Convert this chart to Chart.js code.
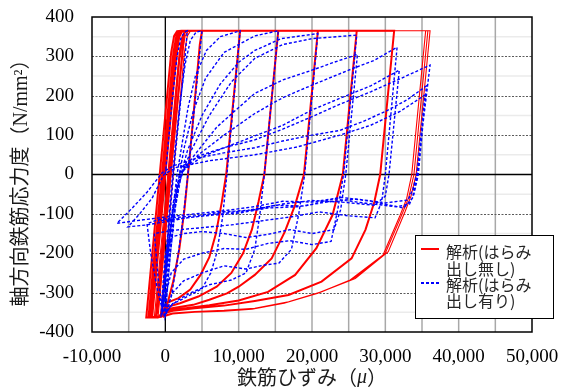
<!DOCTYPE html>
<html>
<head>
<meta charset="utf-8">
<script src="https://cdn.jsdelivr.net/npm/chart.js@4/dist/chart.umd.min.js"></script>
<style>
html,body{margin:0;padding:0;background:#fff;}
#c{display:block;}
</style>
</head>
<body>
<canvas id="c" width="574" height="387"></canvas>
<script>
// ---------- axis ticks ----------
const xTickValues = [-10000, 0, 10000, 20000, 30000, 40000, 50000];
const xTickLabels = ['-10,000', '0', '10,000', '20,000', '30,000', '40,000', '50,000'];
const yTickValues = [-400, -300, -200, -100, 0, 100, 200, 300, 400];
const yTickLabels = ['-400', '-300', '-200', '-100', '0', '100', '200', '300', '400'];

// ---------- series names ----------
const seriesNames = ['解析(はらみ\n出し無し)', '解析(はらみ\n出し有り)'];
const xTitle = ['鉄筋ひずみ（', 'μ', '）'];
const yTitle = '軸方向鉄筋応力度（N/mm²）';

// ---------- red: analysis without bulging  [strain(μ), stress(N/mm²)] ----------
const red1 = [[0,0],[1300,260],[1700,330],[2000,358],[2300,365],[2600,365],[2300,300],[1700,190],[800,20],[0,-140],[-600,-260],[-900,-320],[-1100,-350],[-1300,-363]];
const red2 = [[-1300,-363],[1900,290],[2300,345],[2700,362],[3200,365],[5000,365],[4700,330],[3300,40],[2600,-90],[1900,-190],[1100,-270],[400,-320],[0,-345],[-600,-360],[-1800,-363]];
const red3 = [[-1800,-363],[1500,300],[1900,350],[2300,364],[2800,365],[10200,365],[8300,0],[7700,-70],[6900,-150],[6000,-210],[4800,-255],[3400,-292],[1800,-314],[200,-326],[-300,-345],[-800,-360],[-2200,-363]];
const red4 = [[-2200,-363],[1200,310],[1600,352],[2000,364],[2600,365],[15400,365],[13500,0],[12700,-70],[11800,-140],[10600,-200],[9000,-250],[7000,-285],[4500,-310],[2000,-327],[300,-336],[-300,-350],[-900,-361],[-2600,-363]];
const red5 = [[-2600,-363],[800,310],[1200,352],[1600,364],[2200,365],[20800,365],[18900,0],[17700,-77],[16300,-145],[14500,-213],[12200,-255],[10000,-285],[8400,-302],[6000,-318],[3800,-331],[1500,-338],[200,-342],[-500,-358],[-1200,-363],[-2300,-363]];
const red6 = [[-2300,-363],[1100,310],[1500,352],[1900,364],[2500,365],[26100,365],[24200,0],[22800,-103],[20600,-187],[17700,-255],[14000,-298],[10000,-320],[6000,-332],[2500,-340],[500,-345],[-300,-358],[-1000,-363],[-2000,-363]];
const red7 = [[-2000,-363],[1400,310],[1800,352],[2200,364],[2800,365],[31200,365],[29300,0],[28500,-70],[27300,-140],[25400,-213],[21300,-272],[16800,-306],[12200,-321],[8000,-333],[4000,-340],[1000,-346],[0,-352],[-500,-360],[-1500,-363]];
const red8 = [[-1500,-363],[1900,310],[2300,352],[2700,364],[3300,365],[36100,365],[34200,0],[33500,-55],[32700,-94],[30400,-196],[25900,-264],[21300,-298],[16800,-323],[12200,-340],[8000,-345],[4000,-348],[1000,-352],[0,-357],[-1000,-363],
  [2300,310],[2700,352],[3100,364],[3700,365],[35800,365],[33900,0],[33200,-58],[32300,-100],[30000,-200],[25500,-266],[21000,-300],[16500,-325],[12000,-341],[8000,-346],[4000,-349],[1000,-353],[0,-358],[-700,-363],
  [2600,310],[3000,352],[3400,364],[4000,365],[35500,365],[33600,0],[32900,-62],[32000,-104],[29700,-204],[25200,-268],[20700,-302],[16200,-327],[11800,-342],[8000,-347],[4000,-350],[1000,-354],[0,-360],[-300,-363]];

// ---------- blue: analysis with bulging  [strain(μ), stress(N/mm²)] ----------
const blue1 = [[0,0],[1000,200],[1600,300],[2100,345],[2600,362],[3000,365],[2700,300],[1300,40],[500,-130],[0,-250],[-400,-340],[-600,-362]];
const blue2 = [[-600,-362],[-200,-280],[600,-80],[1300,60],[2000,180],[2700,280],[3400,340],[4200,362],[5000,365],[4700,310],[3300,40],[2500,-100],[1700,-210],[900,-300],[300,-345],[-200,-362]];
const blue3 = [[-200,-362],[300,-250],[900,-110],[1600,0],[2300,80],[3100,170],[4100,250],[5600,315],[7500,350],[10200,365],[8400,0],[7800,-110],[7000,-200],[6200,-250],[5000,-290],[3500,-305],[2000,-320],[1000,-328],[300,-345],[0,-360]];
const blue4 = [[0,-360],[500,-240],[1100,-110],[1800,-10],[2600,70],[3800,160],[5500,245],[8000,310],[12200,352],[15400,365],[13500,0],[12900,-100],[12200,-190],[11000,-250],[9000,-268],[6000,-280],[3500,-300],[1800,-318],[700,-335],[0,-355]];
const blue5 = [[0,-355],[600,-220],[1300,-90],[2000,-10],[3000,60],[5000,150],[7500,230],[10000,285],[12200,315],[15800,345],[20800,358],[19000,0],[18200,-100],[17200,-190],[15500,-225],[13500,-230],[11000,-240],[8000,-232],[5000,-250],[2500,-270],[1000,-300],[0,-352]];
const blue6 = [[0,-352],[700,-200],[1400,-80],[2200,0],[3500,60],[6000,150],[9000,235],[12200,295],[16000,330],[20000,345],[26100,354],[24300,0],[23500,-90],[22600,-170],[20000,-178],[17000,-168],[14000,-175],[11000,-190],[8000,-188],[5000,-200],[2500,-215],[800,-250],[-300,-330],[-600,-360]];
const blue7 = [[-600,-360],[0,-250],[700,-120],[1500,-30],[2400,10],[4000,50],[7000,120],[10000,170],[12200,206],[16000,240],[20000,265],[23000,285],[26200,305],[24600,0],[23900,-90],[23000,-140],[20000,-150],[17000,-140],[14000,-152],[11000,-160],[8000,-150],[5000,-145],[2500,-150],[1000,-158],[0,-200],[-400,-300],[-500,-350]];
const blue8 = [[-500,-350],[200,-230],[900,-110],[1700,-30],[2500,10],[4500,50],[8000,100],[12200,155],[16000,195],[20000,227],[25000,265],[28500,290],[31600,323],[30000,0],[29500,-70],[28600,-110],[25000,-105],[21000,-95],[17000,-108],[13000,-118],[9000,-128],[5000,-135],[2000,-140],[0,-145],[-1500,-150],[-1000,-260],[-400,-345]];
const blue9 = [[-400,-345],[300,-200],[1100,-70],[2000,5],[5000,45],[9000,75],[12200,98],[16000,125],[20000,164],[24000,195],[28000,225],[31900,265],[30500,0],[30000,-55],[28500,-78],[24000,-70],[20000,-66],[16000,-75],[12000,-90],[8000,-95],[4000,-105],[1000,-110],[-1000,-115],[-2500,-125],[-2000,-200],[-1000,-300],[-300,-350]];
const blue10 = [[-300,-350],[400,-200],[1200,-60],[2200,20],[5000,50],[8000,68],[12200,88],[16000,115],[20000,147],[24000,180],[28000,210],[32000,243],[36100,278],[34300,0],[33700,-60],[32500,-85],[28000,-68],[24000,-58],[20000,-70],[16000,-68],[12000,-82],[8000,-92],[4000,-100],[0,-108],[-3000,-115],[-6600,-124]];
const blue11 = [[-6600,-124],[-4500,-85],[-2500,-45],[-400,5],[1100,22],[4000,40],[8000,55],[12200,68],[16000,85],[20000,100],[23800,112],[27000,135],[30000,160],[33000,190],[35600,225],[34500,0],[33900,-50],[33300,-75],[31500,-82],[27000,-72],[23000,-62],[19000,-80],[15000,-78],[11000,-92],[7000,-100],[3000,-110],[0,-120],[-2500,-128],[-5100,-133]];
const blue12 = [[-5100,-133],[-3500,-100],[-1800,-60],[-200,0],[1500,18],[6000,35],[12200,50],[18000,70],[23800,100],[28000,125],[32000,160],[35400,202],[34300,0],[33800,-35],[33100,-65],[30000,-72],[26000,-62],[22000,-70],[18000,-82],[14000,-85],[10000,-98],[6000,-104],[2000,-112],[-1000,-118]];

const redMain = [].concat(red1, red2, red3, red4, red5, red6, red7);
const redLast = red8;
const blueAll = [].concat(blue1, blue2, blue3, blue4, blue5, blue6, blue7, blue8, blue9, blue10, blue11, blue12);

const SERIF = '"Liberation Serif", "Times New Roman", serif';
const JP = '"Noto Sans CJK JP", "Noto Sans CJK SC", sans-serif';

const decor = {
  id: 'decor',
  beforeDatasetsDraw(chart) {
    const {ctx, chartArea: a, scales: {x, y}} = chart;
    ctx.save();
    ctx.beginPath(); ctx.rect(a.left, a.top, a.right - a.left, a.bottom - a.top); ctx.clip();
    ctx.strokeStyle = '#ebebeb'; ctx.lineWidth = 1.5;
    for (let v = -350; v <= 350; v += 100) {
      const p = y.getPixelForValue(v);
      ctx.beginPath(); ctx.moveTo(a.left, p); ctx.lineTo(a.right, p); ctx.stroke();
    }
    ctx.strokeStyle = '#a8a8a8'; ctx.lineWidth = 1.5;
    for (let v = -5000; v < 50000; v += 5000) {
      if (v === 0) continue;
      const p = x.getPixelForValue(v);
      ctx.beginPath(); ctx.moveTo(p, a.top); ctx.lineTo(p, a.bottom); ctx.stroke();
    }
    ctx.strokeStyle = '#5a5a5a'; ctx.lineWidth = 1; ctx.setLineDash([2, 1.5]);
    for (let v = -300; v <= 300; v += 100) {
      if (v === 0) continue;
      const p = Math.round(y.getPixelForValue(v)) + 0.5;
      ctx.beginPath(); ctx.moveTo(a.left, p); ctx.lineTo(a.right, p); ctx.stroke();
    }
    ctx.setLineDash([]);
    ctx.strokeStyle = '#000'; ctx.lineWidth = 1.3;
    const x0 = x.getPixelForValue(0), y0 = y.getPixelForValue(0);
    ctx.beginPath(); ctx.moveTo(x0, a.top); ctx.lineTo(x0, a.bottom); ctx.stroke();
    ctx.beginPath(); ctx.moveTo(a.left, y0); ctx.lineTo(a.right, y0); ctx.stroke();
    ctx.restore();
  },
  afterDraw(chart) {
    const {ctx, chartArea: a} = chart;
    ctx.save();
    ctx.strokeStyle = '#000'; ctx.lineWidth = 1.5;
    ctx.strokeRect(a.left, a.top, a.right - a.left, a.bottom - a.top);
    // y title
    ctx.save();
    ctx.translate(22, 178);
    ctx.rotate(-Math.PI / 2);
    ctx.font = '20px "Liberation Serif", ' + JP;
    ctx.fillStyle = '#1a1a1a';
    ctx.textAlign = 'center'; ctx.textBaseline = 'middle';
    ctx.fillText(yTitle, 0, 0);
    ctx.restore();
    // x title
    const f1 = '20px ' + JP, f2 = 'italic 20px ' + SERIF;
    ctx.font = f1; const w1 = ctx.measureText(xTitle[0]).width, w3 = ctx.measureText(xTitle[2]).width;
    ctx.font = f2; const w2 = ctx.measureText(xTitle[1]).width;
    let sx = (a.left + a.right) / 2 - (w1 + w2 + w3) / 2;
    const ty = 377;
    ctx.fillStyle = '#1a1a1a'; ctx.textAlign = 'left'; ctx.textBaseline = 'middle';
    ctx.font = f1; ctx.fillText(xTitle[0], sx, ty); sx += w1;
    ctx.font = f2; ctx.fillText(xTitle[1], sx, ty + 1); sx += w2;
    ctx.font = f1; ctx.fillText(xTitle[2], sx, ty);
    // legend
    const lx = 415.5, ly = 235.5, lw = 138, lh = 83;
    ctx.fillStyle = '#fff'; ctx.fillRect(lx, ly, lw, lh);
    ctx.strokeStyle = '#000'; ctx.lineWidth = 1; ctx.strokeRect(lx, ly, lw, lh);
    ctx.lineWidth = 2;
    ctx.strokeStyle = '#ff0000';
    ctx.beginPath(); ctx.moveTo(421, 249); ctx.lineTo(439, 249); ctx.stroke();
    ctx.strokeStyle = '#0000ff'; ctx.setLineDash([3, 2]);
    ctx.beginPath(); ctx.moveTo(421, 283); ctx.lineTo(440, 283); ctx.stroke();
    ctx.setLineDash([]);
    ctx.font = '16px ' + JP; ctx.fillStyle = '#262626';
    ctx.textAlign = 'left'; ctx.textBaseline = 'middle';
    const r = seriesNames[0].split('\n'), b = seriesNames[1].split('\n');
    ctx.fillText(r[0], 446, 252); ctx.fillText(r[1], 446, 268.5);
    ctx.fillText(b[0], 446, 284.5); ctx.fillText(b[1], 446, 301);
    ctx.restore();
  }
};

const hiddenGrid = {display: true, drawOnChartArea: false, drawTicks: true, color: 'rgba(0,0,0,0)', tickColor: 'rgba(0,0,0,0)'};

new Chart(document.getElementById('c'), {
  type: 'scatter',
  data: {
    datasets: [
      {label: seriesNames[1], data: blueAll, showLine: true, borderColor: '#0000ff', borderWidth: 1.4, borderDash: [3, 2], pointRadius: 0, tension: 0, order: 0},
      {label: seriesNames[0], data: redLast, showLine: true, borderColor: '#ff0000', borderWidth: 1.1, pointRadius: 0, tension: 0, order: 1},
      {label: seriesNames[0], data: redMain, showLine: true, borderColor: '#ff0000', borderWidth: 2, pointRadius: 0, tension: 0, order: 2}
    ]
  },
  options: {
    responsive: false, animation: false, devicePixelRatio: 1,
    layout: {padding: {top: 17, right: 42, left: 0, bottom: 0}},
    plugins: {legend: {display: false}, tooltip: {enabled: false}},
    scales: {
      x: {
        type: 'linear', min: -10000, max: 50000,
        afterBuildTicks: s => { s.ticks = xTickValues.map(v => ({value: v})); },
        afterFit: s => { s.height = 55; },
        ticks: {callback: v => xTickLabels[xTickValues.indexOf(v)], font: {family: SERIF, size: 19}, color: '#000', padding: 0, maxRotation: 0, autoSkip: false},
        grid: Object.assign({tickLength: 14}, hiddenGrid), border: {display: false}
      },
      y: {
        type: 'linear', min: -400, max: 400,
        afterBuildTicks: s => { s.ticks = yTickValues.map(v => ({value: v})); },
        afterFit: s => { s.width = 92; },
        ticks: {callback: v => yTickLabels[yTickValues.indexOf(v)], font: {family: SERIF, size: 19}, color: '#000', padding: 0, autoSkip: false},
        grid: Object.assign({tickLength: 18}, hiddenGrid), border: {display: false}
      }
    }
  },
  plugins: [decor]
});
</script>
</body>
</html>
